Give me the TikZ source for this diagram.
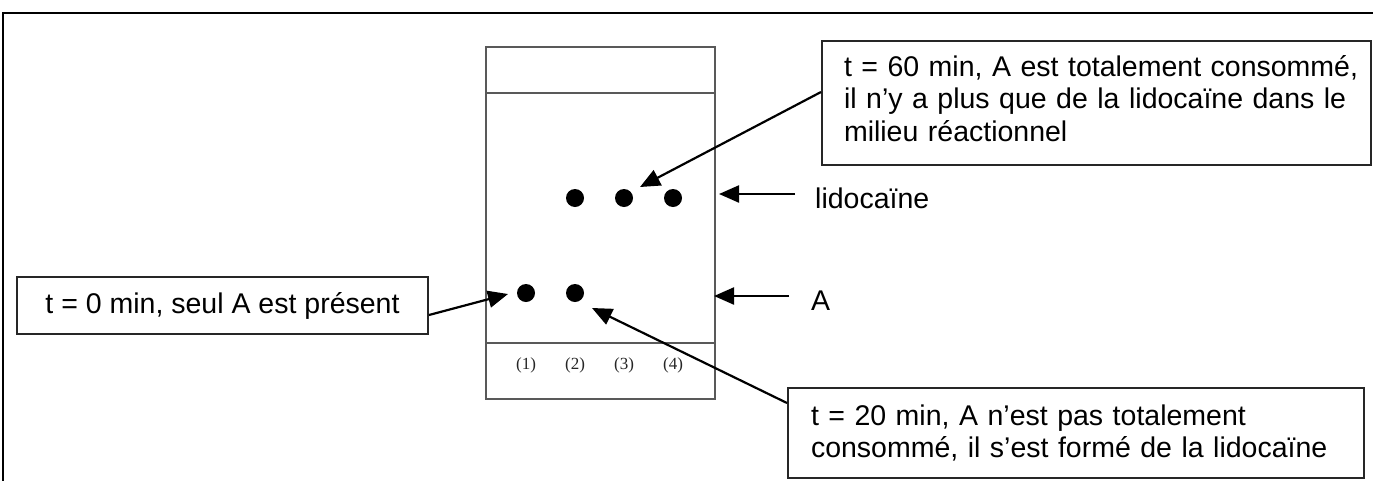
\documentclass[tikz,border=0pt]{standalone}
\usepackage{fontspec}
\setmainfont{Liberation Sans}
\newfontfamily\platefont{Liberation Serif}
\usetikzlibrary{arrows.meta}
\begin{document}
\begin{tikzpicture}[x=1pt,y=-1pt,
  box/.style={draw=black!85, line width=2pt, fill=white, inner sep=0pt},
  lbl/.style={font=\fontsize{28.5}{32.5}\selectfont, text=black},
  arr/.style={-{Triangle[length=20pt,width=17pt]}, line width=2.2pt},
  spot/.style={circle, fill=black, minimum size=18pt, inner sep=0pt},
  lane/.style={font=\platefont\fontsize{17}{19}\selectfont, text=black!85},
  plateline/.style={draw=black!65, line width=1.6pt}]
\useasboundingbox (0,0) rectangle (1373,480);
\clip (0,0) rectangle (1373,480);
% outer frame
\draw[line width=2.8pt] (3,13) rectangle (1400,500);
% TLC plate
\node[plateline, minimum width=229pt, minimum height=352pt, anchor=north west, inner sep=0pt] (plate) at (485,46) {};
\draw[plateline] (485,93) -- (714,93);
\draw[plateline] (485,343) -- (714,343);
% spots
\node[spot] (s2a) at (575,198) {};
\node[spot] (s3a) at (624,198) {};
\node[spot] (s4a) at (673,198) {};
\node[spot] (s1b) at (526,293) {};
\node[spot] (s2b) at (575,293) {};
% lane labels
\node[lane] (l1) at (526,365) {(1)};
\node[lane] (l2) at (575,365) {(2)};
\node[lane] (l3) at (624,365) {(3)};
\node[lane] (l4) at (673,365) {(4)};
% boxes
\node[box, lbl, anchor=north west, minimum width=411pt, minimum height=57pt] (b1) at (16,276) {t = 0 min, seul A est présent};
\node[box, lbl, anchor=north west, minimum height=124pt, text width=505pt, inner xsep=22pt, align=left] (b3) at (821,40) {\mbox{t = 60 min, A est totalement consommé,}\\\mbox{il n’y a plus que de la lidocaïne dans le}\\\mbox{milieu réactionnel}\rule[-9pt]{0pt}{9pt}};
\node[box, lbl, anchor=north west, minimum height=90pt, text width=530pt, inner xsep=23pt, align=left] (b2) at (787,387) {\mbox{t = 20 min, A n’est pas totalement}\\\mbox{consommé, il s’est formé de la lidocaïne}};
% side labels
\node[lbl, anchor=base west, inner sep=0pt] (lid) at (815,208) {lidocaïne};
\node[lbl, anchor=base west, inner sep=0pt] (la) at (811,310) {A};
% arrow tips
\coordinate (t0) at (508,294);
\coordinate (t60) at (640,187);
\coordinate (t20) at (592,308);
\coordinate (tl) at (719,194);
\coordinate (ta) at (714,296);
\coordinate (sl) at (795,194);
\coordinate (sa) at (789,296);
% arrows
\draw[arr] ([yshift=-9.5pt]b1.east) -- (t0);
\draw[arr] ([yshift=11pt]b3.west) -- (t60);
\draw[arr] ([yshift=-16pt]b2.north west) -- (t20);
\draw[arr] (sl) -- (tl);
\draw[arr] (sa) -- (ta);
\end{tikzpicture}
\end{document}
